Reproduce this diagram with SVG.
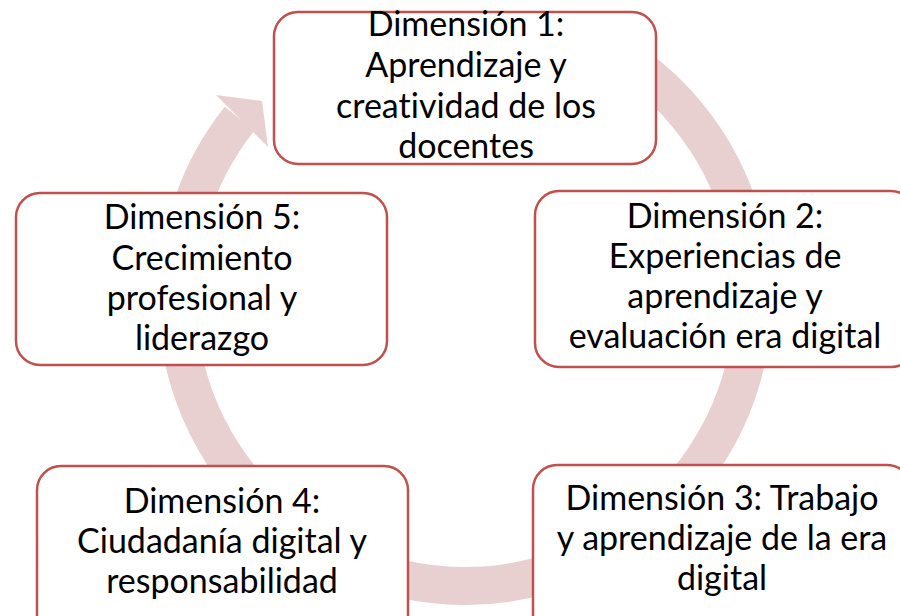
<svg xmlns="http://www.w3.org/2000/svg" width="900" height="616" viewBox="0 0 900 616">
  <style>
    .box { fill: #FFFFFF; stroke: #C0504D; stroke-width: 2.5; }
    .lbl { font-family: Lato, "Liberation Sans", sans-serif; font-size: 34px; fill: #000000; text-anchor: middle; font-variant-ligatures: none; }
    .ring { fill: none; stroke: #E8CFD0; stroke-width: 38; }
    .head { fill: #E8CFD0; stroke: none; }
  </style>
  <rect x="0" y="0" width="900" height="616" fill="#FFFFFF"/>
  <g id="connectors">
    <path class="ring" d="M 600.2 43.7 A 288 288 0 1 1 239.6 118.7"/>
    <polygon class="head" points="216,95 262,101 268,147"/>
  </g>
  <g id="node1">
    <rect class="box" x="274" y="12" width="382" height="152" rx="24"/>
    <text class="lbl" x="466" y="36">Dimensión 1:</text>
    <text class="lbl" x="466" y="77">Aprendizaje y</text>
    <text class="lbl" x="466" y="118">creatividad de los</text>
    <text class="lbl" x="466" y="158">docentes</text>
  </g>
  <g id="node2">
    <rect class="box" x="535" y="191" width="380" height="176" rx="24"/>
    <text class="lbl" x="725" y="228">Dimensión 2:</text>
    <text class="lbl" x="725" y="268">Experiencias de</text>
    <text class="lbl" x="725" y="308">aprendizaje y</text>
    <text class="lbl" x="725" y="348">evaluación era digital</text>
  </g>
  <g id="node3">
    <rect class="box" x="533" y="465" width="378" height="174" rx="24"/>
    <text class="lbl" x="722" y="510">Dimensión 3: Trabajo</text>
    <text class="lbl" x="722" y="550">y aprendizaje de la era</text>
    <text class="lbl" x="722" y="590">digital</text>
  </g>
  <g id="node4">
    <rect class="box" x="37" y="466" width="371" height="174" rx="24"/>
    <text class="lbl" x="222" y="513">Dimensión 4:</text>
    <text class="lbl" x="222" y="553">Ciudadanía digital y</text>
    <text class="lbl" x="222" y="593">responsabilidad</text>
  </g>
  <g id="node5">
    <rect class="box" x="16" y="193" width="371" height="172" rx="24"/>
    <text class="lbl" x="202" y="229">Dimensión 5:</text>
    <text class="lbl" x="202" y="270">Crecimiento</text>
    <text class="lbl" x="202" y="310">profesional y</text>
    <text class="lbl" x="202" y="350">liderazgo</text>
  </g>
</svg>
